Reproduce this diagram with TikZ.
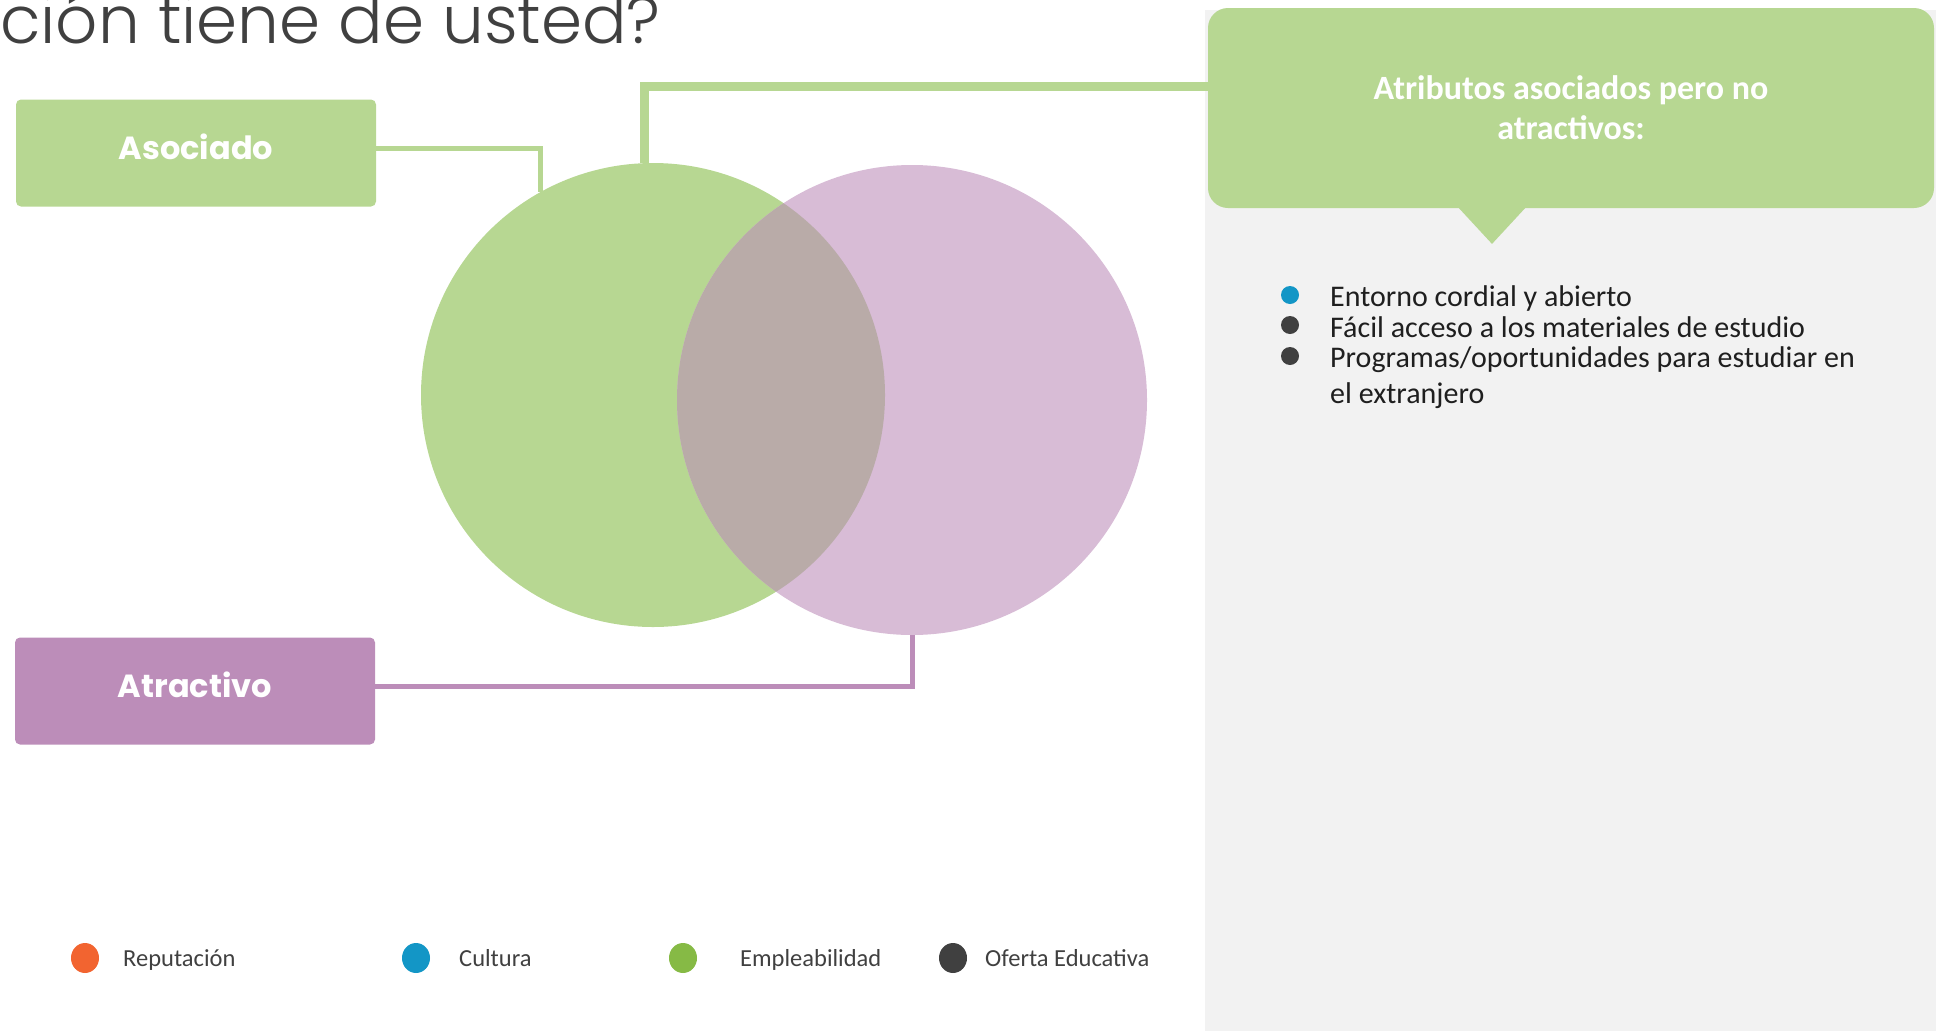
\documentclass[tikz,border=0pt]{standalone}
\usepackage{fontspec}
\setmainfont{Carlito}
\newfontfamily\titlefont{Poppins Light}
\newfontfamily\boxfont{Poppins}
\usetikzlibrary{positioning,shapes.geometric}

\definecolor{vGreen}{HTML}{B7D792}
\definecolor{vPurple}{HTML}{D8BCD6}
\definecolor{vMix}{HTML}{B9ABA8}
\definecolor{vPlum}{HTML}{BC8DB9}
\definecolor{vPanel}{HTML}{F2F2F2}
\definecolor{vText}{HTML}{404040}
\definecolor{vOrange}{HTML}{F26430}
\definecolor{vBlue}{HTML}{1396C6}
\definecolor{vLeaf}{HTML}{86BA45}

\tikzset{
  tag/.style={rounded corners=5pt, minimum width=360pt, minimum height=107pt,
    text height=24pt, text depth=12pt,
    text=white, font=\boxfont\bfseries\fontsize{32}{38}\selectfont},
  dot/.style={circle, inner sep=0pt, minimum size=18pt},
  key/.style={ellipse, inner sep=0pt, minimum width=28pt, minimum height=30pt},
  item/.style={anchor=base west, inner sep=0pt, text=black!88, align=left,
    font=\fontsize{30}{36}\selectfont},
  legend/.style={anchor=base west, inner sep=0pt, text=vText,
    font=\fontsize{24.5}{28}\selectfont}
}

\begin{document}
\begin{tikzpicture}[x=1pt,y=-1pt]
	\useasboundingbox (0,0) rectangle (1936,1031);
	\fill[vPanel] (1205,10) rectangle (1936,1031);
	% title, cut at the top
	\node (title) [anchor=base west, inner sep=0pt, text=vText,
		font=\titlefont\fontsize{66}{72}\selectfont] at (0,43) {ción tiene de usted?};
	% circles
	\path (653,395) node (green) [circle, fill=vGreen, minimum size=464pt, inner sep=0pt] {}
		  (912,400) node (purple) [circle, fill=vPurple, minimum size=470pt, inner sep=0pt] {};
	\begin{scope}
		\clip (653pt,-395pt) circle [radius=232pt];
		\fill[vMix] (912pt,-400pt) circle [radius=235pt];
	\end{scope}
	% labels
	\path (196,153) node (asoc) [tag, fill=vGreen] {Asociado}
		  (195,691) node (atrac) [tag, fill=vPlum] {Atractivo};
	\coordinate (hook) at (1212,86);
	\draw[vGreen, line width=5pt] ([yshift=5pt]asoc.east) -| (green.119);
	\draw[vGreen, line width=9pt] (green.92) |- (hook);
	\draw[vPlum, line width=5pt] ([yshift=5pt]atrac.east) -| (purple.south);
	% callout
	\node (tip) [diamond, fill=vGreen, minimum width=74pt, minimum height=80pt, inner sep=0pt] at (1492,204) {};
	\node (callout) [rounded corners=20pt, fill=vGreen, minimum width=726pt, minimum height=200pt,
		text=white, align=center, font=\bfseries\fontsize{34}{40}\selectfont] at (1571,108)
		{Atributos asociados pero no\\atractivos:};
	% list
	\node (i1) [item] at (1330,306) {Entorno cordial y abierto};
	\node (i2) [item] at (1330,337) {Fácil acceso a los materiales de estudio};
	\node (i3) [item] at (1330,403) {Programas/oportunidades para estudiar en\\el extranjero};
	\node (b1) [dot, fill=vBlue] at (1290,295) {};
	\node (b2) [dot, fill=vText] at (1290,325) {};
	\node (b3) [dot, fill=vText] at (1290,356) {};
	% legend
	\path (85,958) node (k1) [key, fill=vOrange] {}
		  (416,958) node (k2) [key, fill=vBlue] {}
		  (683,958) node (k3) [key, fill=vLeaf] {}
		  (953,958) node (k4) [key, fill=vText] {};
	\node (l1) [legend] at (123,966) {Reputación};
	\node (l2) [legend] at (459,966) {Cultura};
	\node (l3) [legend] at (740,966) {Empleabilidad};
	\node (l4) [legend] at (985,966) {Oferta Educativa};
\end{tikzpicture}
\end{document}
